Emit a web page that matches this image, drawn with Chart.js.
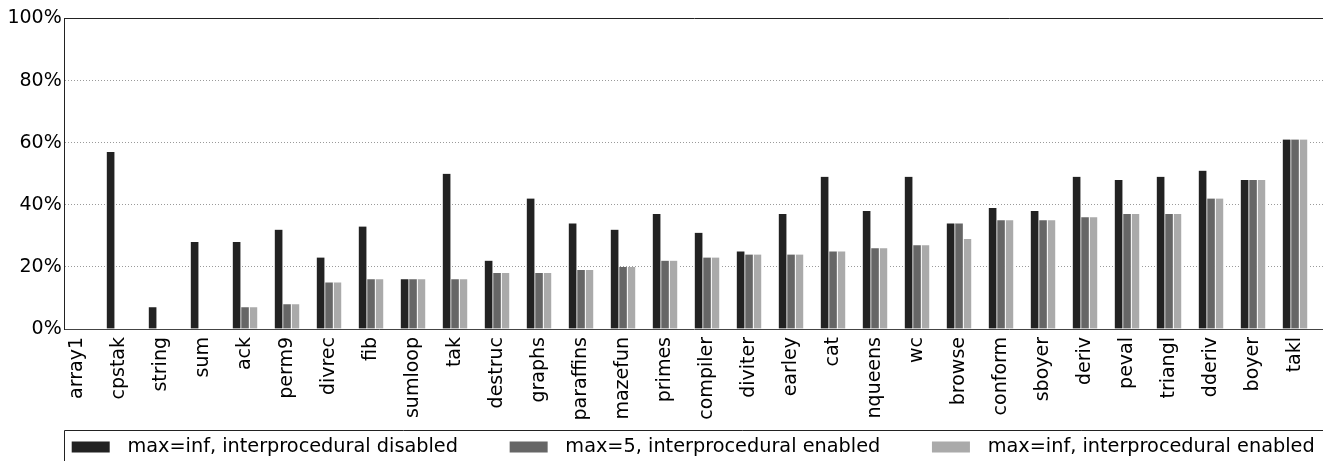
<!DOCTYPE html>
<html><head><meta charset="utf-8">
<script src="https://cdn.jsdelivr.net/npm/chart.js@4.4.1/dist/chart.umd.min.js"></script>
<style>
html,body{margin:0;padding:0;background:#fff;overflow:hidden;}
#wrap{width:1323px;height:461px;overflow:hidden;position:relative;}
canvas{display:block;}
</style></head><body>
<div id="wrap"><canvas id="c" width="1420" height="461" style="width:1420px;height:461px"></canvas></div>
<script>
const categories = ['array1','cpstak','string','sum','ack','perm9','divrec','fib','sumloop','tak','destruc','graphs','paraffins','mazefun','primes','compiler','diviter','earley','cat','nqueens','wc','browse','conform','sboyer','deriv','peval','triangl','dderiv','boyer','takl'];
const seriesNames = ['max=inf, interprocedural disabled','max=5, interprocedural enabled','max=inf, interprocedural enabled'];
const infDisabled = [0,57,7,28,28,32,23,33,16,50,22,42,34,32,37,31,25,37,49,38,49,34,39,38,49,48,49,51,48,61];
const max5Enabled = [0,0,0,0,7,8,15,16,16,16,18,18,19,20,22,23,24,24,25,26,27,34,35,35,36,37,37,42,48,61];
const infEnabled  = [0,0,0,0,7,8,15,16,16,16,18,18,19,20,22,23,24,24,25,26,27,29,35,35,36,37,37,42,48,61];
const yTicks = [0,20,40,60,80,100];

const seriesColors = ['#222222','#666666','#aaaaaa'];
const seriesData = [infDisabled, max5Enabled, infEnabled];

Chart.defaults.font.family = "'DejaVu Sans', sans-serif";
Chart.defaults.font.size = 19;
Chart.defaults.color = '#000';

const W = 1420, H = 461;
const plotLeft = 64.7, plotRight = 1324.7, plotTop = 18.5, plotBottom = 329;
const legendFont = 19.3;
const legendPad = 7;
const legendTop = 430.35;
const legendHeight = legendFont + legendPad + 10;

const datasets = seriesNames.map((n,i)=>({
  label:n, data:seriesData[i], backgroundColor:seriesColors[i],
  borderColor:'#ffffff', borderWidth:{top:0,left:0,bottom:0,right:1}
}));
// two empty slots per category form the gap between groups
datasets.push({label:'gap1', data:categories.map(()=>null), backgroundColor:'rgba(0,0,0,0)'});
datasets.push({label:'gap2', data:categories.map(()=>null), backgroundColor:'rgba(0,0,0,0)'});

const legendFrame = {
  id:'legendFrame',
  afterDraw(chart){
    const lg = chart.legend;
    if(!lg) return;
    const ctx = chart.ctx;
    const x = Math.floor(chart.chartArea.left) + 0.5;
    const top = Math.round(lg.top) + 0.5;
    ctx.save();
    ctx.strokeStyle = '#222'; ctx.lineWidth = 1;
    ctx.beginPath();
    ctx.moveTo(x, chart.height + 2); ctx.lineTo(x, top); ctx.lineTo(chart.width + 2, top);
    ctx.stroke();
    ctx.restore();
  }
};

const trailing = ['\u2003\u2003 ', '\u2003\u2003 ', ''];

new Chart(document.getElementById('c'), {
  type:'bar',
  data:{labels:categories, datasets},
  plugins:[legendFrame],
  options:{
    responsive:false, animation:false,
    layout:{padding:{left:0, top:plotTop, right:0, bottom:H - legendTop - legendHeight}},
    datasets:{bar:{categoryPercentage:1, barPercentage:1}},
    scales:{
      x:{type:'category', position:'bottom',
        grid:{display:false, drawTicks:false},
        border:{display:true, color:'#444', width:1},
        ticks:{minRotation:90, maxRotation:90, autoSkip:false, padding:8, labelOffset:-8.4, color:'#000'},
        afterFit(s){ s.height = legendTop - plotBottom; }},
      xTop:{type:'category', position:'top', labels:categories,
        grid:{display:false, drawTicks:false},
        border:{display:true, color:'#222', width:1},
        ticks:{display:false},
        afterFit(s){ s.height = 0; }},
      y:{type:'linear', position:'left', min:0, max:100,
        grid:{color:(c)=> (c.tick && c.tick.value>0 && c.tick.value<100) ? '#9a9a9a' : 'rgba(0,0,0,0)', drawTicks:false, lineWidth:1},
        border:{display:true, color:'#222', width:1, dash:[1,2]},
        ticks:{padding:3, color:'#000', callback:(v)=> v + '%'},
        afterBuildTicks(s){ s.ticks = yTicks.map(v=>({value:v})); },
        afterFit(s){ s.width = plotLeft; }},
      yR:{type:'linear', position:'right', display:true,
        grid:{display:false, drawTicks:false}, border:{display:false}, ticks:{display:false},
        afterFit(s){ s.width = W - plotRight; }}
    },
    plugins:{
      tooltip:{enabled:false},
      legend:{position:'bottom', align:'start', fullSize:false,
        labels:{boxWidth:38, boxHeight:11, padding:legendPad, color:'#000',
          font:{size:legendFont},
          filter:(item)=> item.datasetIndex < 3,
          generateLabels(chart){
            const items = Chart.defaults.plugins.legend.labels.generateLabels(chart);
            items.forEach((it,i)=>{
              it.text = ' \u200A' + it.text + (trailing[i] || '');
              it.lineWidth = 0; it.strokeStyle = it.fillStyle;
            });
            return items;
          }}}
    }
  }
});
</script>
</body></html>
